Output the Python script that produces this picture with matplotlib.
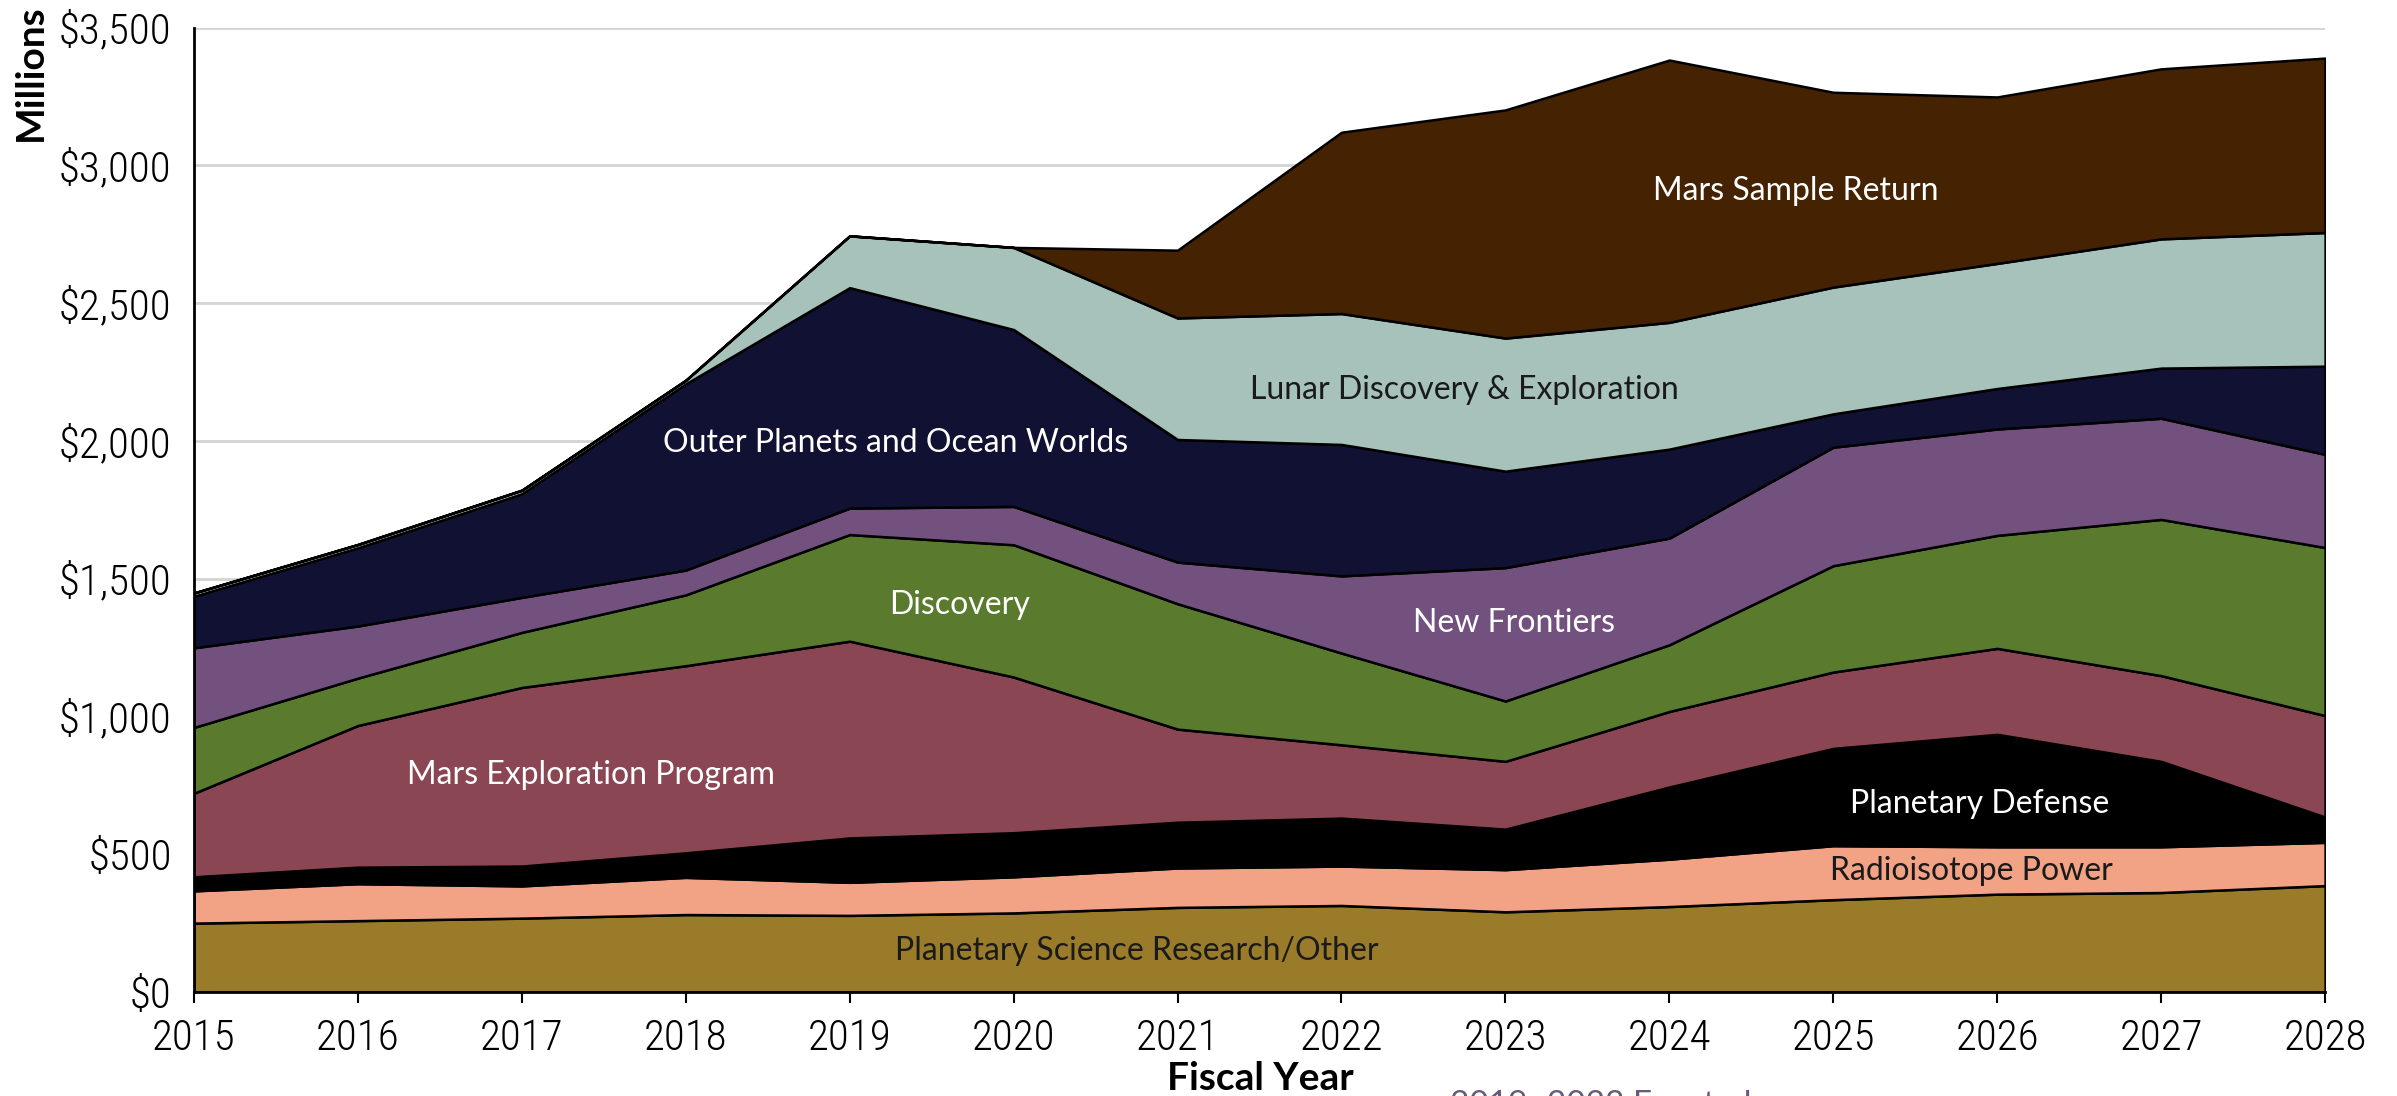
import matplotlib
matplotlib.use("Agg")
import matplotlib.pyplot as plt
from matplotlib import font_manager
from matplotlib.ticker import FuncFormatter

years = list(range(2015, 2029))

# $ millions per program (bottom layer first)
research = [250, 259, 268, 281, 278, 287, 307, 314, 291, 310, 335, 355, 361, 386]
radioisotope = [117, 134, 117, 135, 120, 131, 143, 143, 153, 172, 196, 172, 166, 157]
defense = [51, 60, 72, 89, 161, 160, 166, 174, 147, 262, 353, 408, 310, 92]
mars_exploration = [303, 514, 648, 679, 714, 565, 338, 266, 246, 274, 277, 312, 311, 368]
discovery = [239, 172, 200, 257, 387, 480, 455, 333, 219, 242, 386, 410, 567, 610]
new_frontiers = [289, 189, 127, 90, 96, 139, 151, 280, 484, 387, 430, 386, 367, 338]
outer_planets = [187, 284, 376, 676, 800, 642, 445, 477, 350, 323, 121, 147, 182, 320]
lunar = [12, 12, 13, 13, 188, 298, 441, 475, 483, 460, 460, 454, 469, 485]
mars_sample_return = [0, 0, 0, 0, 0, 0, 246, 658, 828, 952, 707, 604, 617, 633]

layers = [research, radioisotope, defense, mars_exploration, discovery,
          new_frontiers, outer_planets, lunar, mars_sample_return]
colors = ["#9a7b2a", "#f2a285", "#000000", "#8b4654", "#5a7a2e",
          "#73517f", "#111133", "#a7c2ba", "#452202"]

# label text, position (year, $M), text colour
labels = [
    ("Planetary Science Research/Other", 2020.75, 150, "#1a1a1a"),
    ("Radioisotope Power", 2025.84, 439, "#1a1a1a"),
    ("Planetary Defense", 2025.89, 683, "white"),
    ("Mars Exploration Program", 2017.42, 789, "white"),
    ("Discovery", 2019.67, 1406, "white"),
    ("New Frontiers", 2023.05, 1339, "white"),
    ("Outer Planets and Ocean Worlds", 2019.28, 1994, "white"),
    ("Lunar Discovery & Exploration", 2022.75, 2183, "#1a1a1a"),
    ("Mars Sample Return", 2024.77, 2906, "white"),
]

y_ticks = [0, 500, 1000, 1500, 2000, 2500, 3000, 3500]

# condensed face for the tick labels, whichever is installed
installed = {f.name for f in font_manager.fontManager.ttflist}
wanted = ["Roboto Condensed", "Open Sans Condensed", "Liberation Sans Narrow", "DejaVu Sans"]
tick_font = [name for name in wanted if name in installed] or ["DejaVu Sans"]
label_font = ["Lato", "DejaVu Sans"]

fig = plt.figure(figsize=(23.97, 10.96), dpi=100)
ax = fig.add_axes([0.0809, 0.0949, 0.8891, 0.880])

ax.stackplot(years, *layers, colors=colors, edgecolor="black", linewidth=1.8, zorder=2)

ax.set_xlim(years[0], years[-1])
ax.set_ylim(0, 3500)
ax.set_yticks(y_ticks)
ax.yaxis.set_major_formatter(FuncFormatter(lambda v, _: f"${v:,.0f}"))
ax.set_xticks(years)
ax.grid(axis="y", color="#d4d4d4", linewidth=2, zorder=0)
ax.set_axisbelow(True)

for side in ("top", "right"):
    ax.spines[side].set_visible(False)
for side in ("left", "bottom"):
    ax.spines[side].set_linewidth(2)
    ax.spines[side].set_zorder(3)

ax.tick_params(axis="y", length=0, pad=16)
ax.tick_params(axis="x", length=8, width=1.5, direction="out", pad=11)
for t in ax.get_xticklabels() + ax.get_yticklabels():
    t.set_family(tick_font)
    t.set_fontstretch("condensed")
    t.set_fontweight("light")
    t.set_fontsize(31)

for text, x, y, color in labels:
    ax.text(x, y, text, ha="center", va="center", color=color,
            fontsize=23, family=label_font, zorder=4)

fig.text(0.0125, 0.934, "Millions", rotation=90, ha="center", va="center",
         fontsize=28, fontweight="bold", family=["Lato", "DejaVu Sans"])
fig.text(0.526, 0.016, "Fiscal Year", ha="center", va="center",
         fontsize=28, fontweight="bold", family=["Lato", "DejaVu Sans"])
fig.text(0.605, -0.008, "2019\u20132023 Enacted", ha="left", va="center",
         fontsize=24, color="#6a5a7a", family=["Lato", "DejaVu Sans"])

fig.savefig("out.png", dpi=100)
